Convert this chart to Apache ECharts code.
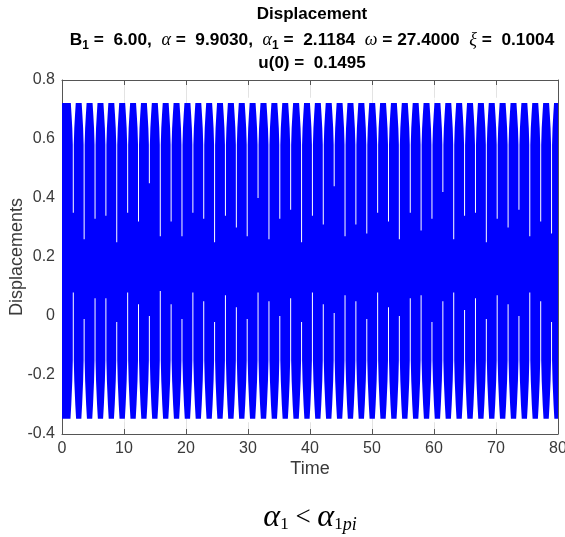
<!DOCTYPE html>
<html><head><meta charset="utf-8">
<script src="https://cdn.jsdelivr.net/npm/echarts@6/dist/echarts.min.js"></script>
<style>html,body{margin:0;padding:0;background:#fff}#c{width:565px;height:537px}</style>
</head><body><div id="c"></div>
<script>
// ---- data ----
const xTicks = [0, 10, 20, 30, 40, 50, 60, 70, 80];
const yTickLabels = ['-0.4', '-0.2', '0', '0.2', '0.4', '0.6', '0.8'];
const timeRange = [0, 80];
// envelope of the fast oscillation (trough, peak)
const envelope = [-0.348, 0.722];
// times of the white aliasing gaps between the visible lobes
const gapTimes = [1.82, 3.57, 5.33, 7.08, 8.83, 10.59, 12.34, 14.09, 15.85, 17.60,
  19.35, 21.11, 22.86, 24.61, 26.36, 28.12, 29.87, 31.62, 33.38, 35.13,
  36.88, 38.64, 40.39, 42.14, 43.90, 45.65, 47.40, 49.16, 50.91, 52.66,
  54.41, 56.17, 57.92, 59.67, 61.43, 63.18, 64.93, 66.69, 68.44, 70.19,
  71.95, 73.70, 75.45, 77.21, 78.96];
// lowest value reached by each gap coming down from the top
const topGapDepth = [0.35, 0.26, 0.33, 0.34, 0.25, 0.35, 0.32, 0.45, 0.27, 0.32,
  0.27, 0.35, 0.33, 0.25, 0.34, 0.30, 0.27, 0.40, 0.26, 0.33,
  0.36, 0.25, 0.34, 0.31, 0.44, 0.27, 0.31, 0.28, 0.35, 0.32,
  0.26, 0.35, 0.29, 0.33, 0.42, 0.26, 0.34, 0.35, 0.25, 0.33,
  0.30, 0.36, 0.27, 0.32, 0.28];
// highest value reached by each gap coming up from the bottom
const bottomGapHeight = [0.08, -0.01, 0.06, 0.06, -0.02, 0.08, 0.04, 0.00, 0.085, 0.04,
  -0.01, 0.08, 0.05, -0.02, 0.07, 0.03, -0.01, 0.08, 0.05, 0.00,
  0.06, -0.02, 0.08, 0.04, 0.01, 0.07, 0.05, -0.01, 0.08, 0.03,
  0.00, 0.06, 0.07, -0.02, 0.05, 0.08, 0.02, 0.06, -0.01, 0.07,
  0.04, 0.00, 0.08, 0.05, -0.02];

// ---- chart ----
const chart = echarts.init(document.getElementById('c'));
const FONT = "'Liberation Sans', Arial, Helvetica, sans-serif";
const SERIF = "'Liberation Serif', 'DejaVu Serif', serif";
const axisColor = '#555';
const labelColor = '#3a3a3a';

const boxAxis = {
  type: 'value', min: timeRange[0], max: timeRange[1], interval: 10,
  axisLine: { show: true, onZero: false, lineStyle: { color: axisColor, width: 1 } },
  axisTick: { show: true, inside: true, length: 5, lineStyle: { color: axisColor } },
  axisLabel: { show: false }, splitLine: { show: false }
};

const sub = (pad) => ({ fontFamily: FONT, fontWeight: 'bold', fontSize: 12, color: '#000', lineHeight: 28, padding: [pad, 0, 0, 0] });

chart.setOption({
  animation: false,
  backgroundColor: '#fff',
  title: [
    { text: 'Displacement', left: 307, top: 1, textAlign: 'center',
      textStyle: { fontFamily: FONT, fontWeight: 'bold', fontSize: 17, color: '#000' } },
    { text: '{b|B}{s|1}{b| =  6.00,  }{g|α}{b| =  9.9030,  }{g|α}{s|1}{b| =  2.1184  }{g|ω}{b| = 27.4000  }{g|ξ}{b| =  0.1004}',
      left: 307, top: 21, textAlign: 'center',
      textStyle: { rich: {
        b: { fontFamily: FONT, fontWeight: 'bold', fontSize: 17.3, color: '#000', lineHeight: 28 },
        s: sub(12),
        g: { fontFamily: SERIF, fontStyle: 'italic', fontWeight: 'normal', fontSize: 18, color: '#000', lineHeight: 28 }
      } } },
    { text: 'u(0) =  0.1495', left: 307, top: 50, textAlign: 'center',
      textStyle: { fontFamily: FONT, fontWeight: 'bold', fontSize: 17, color: '#000' } }
  ],
  grid: { left: 62, top: 80, width: 496, height: 354, containLabel: false, outerBoundsMode: 'none' },
  xAxis: [
    { type: 'value', min: timeRange[0], max: timeRange[1], interval: 10, position: 'bottom',
      name: 'Time', nameLocation: 'middle', nameGap: 26, nameMoveOverlap: false,
      nameTextStyle: { fontFamily: FONT, fontSize: 18, color: labelColor },
      axisLine: { show: true, onZero: false, lineStyle: { color: axisColor, width: 1 } },
      axisTick: { show: true, inside: true, length: 5, lineStyle: { color: axisColor } },
      axisLabel: { fontFamily: FONT, fontSize: 16, color: labelColor, margin: 7,
        formatter: v => (xTicks.indexOf(v) >= 0 ? String(v) : '') },
      splitLine: { show: true, lineStyle: { color: '#e3e3e3', width: 1 } } },
    Object.assign({}, boxAxis, { position: 'top' })
  ],
  yAxis: [
    { type: 'value', min: -0.4, max: 0.8, interval: 0.2, position: 'left',
      name: 'Displacements', nameLocation: 'middle', nameGap: 36, nameMoveOverlap: false,
      nameTextStyle: { fontFamily: FONT, fontSize: 18, color: labelColor },
      axisLine: { show: true, onZero: false, lineStyle: { color: axisColor, width: 1 } },
      axisTick: { show: true, inside: true, length: 5, lineStyle: { color: axisColor } },
      axisLabel: { fontFamily: FONT, fontSize: 16, color: labelColor, margin: 7,
        formatter: v => { const s = String(+v.toFixed(1)); return yTickLabels.indexOf(s) >= 0 ? s : ''; } },
      splitLine: { show: false } },
    { type: 'value', min: -0.4, max: 0.8, interval: 0.2, position: 'right',
      axisLine: { show: true, onZero: false, lineStyle: { color: axisColor, width: 1 } },
      axisTick: { show: true, inside: true, length: 5, lineStyle: { color: axisColor } },
      axisLabel: { show: false }, splitLine: { show: false } }
  ],
  graphic: [
    { type: 'text', x: 310, y: 518, silent: true,
      style: { text: '{a|α}{s|1}{o| < }{a|α}{s|1}{i|pi}', textAlign: 'center', textVerticalAlign: 'middle',
        rich: {
          a: { fontFamily: SERIF, fontStyle: 'italic', fontSize: 32, color: '#000', lineHeight: 40 },
          o: { fontFamily: SERIF, fontSize: 27, color: '#000', lineHeight: 40 },
          s: { fontFamily: SERIF, fontSize: 17, color: '#000', lineHeight: 40, padding: [14, 0, 0, 0] },
          i: { fontFamily: SERIF, fontStyle: 'italic', fontSize: 18, color: '#000', lineHeight: 40, padding: [14, 0, 0, 0] }
        } } }
  ],
  series: [
    { type: 'custom', name: 'band', clip: true, xAxisIndex: 0, yAxisIndex: 0,
      data: [[timeRange[0], timeRange[1], envelope[0], envelope[1]]],
      renderItem: (params, api) => {
        const p1 = api.coord([api.value(0), api.value(3)]);
        const p2 = api.coord([api.value(1), api.value(2)]);
        return { type: 'rect', shape: { x: p1[0], y: p1[1], width: p2[0] - p1[0], height: p2[1] - p1[1] },
          style: { fill: '#0000ff' } };
      } },
    { type: 'custom', name: 'gaps', clip: true, xAxisIndex: 0, yAxisIndex: 0,
      data: gapTimes.map((t, i) => [t, topGapDepth[i], bottomGapHeight[i]]),
      renderItem: (params, api) => {
        const t = api.value(0), dTop = api.value(1), hBot = api.value(2);
        const cx = api.coord([t, 0])[0];
        const y = v => api.coord([t, v])[1];
        const top = [[cx - 2.8, y(0.74)], [cx - 1.7, y(0.68)], [cx - 1.0, y(0.637)], [cx - 0.5, y(0.58)],
          [cx - 0.5, y(dTop)], [cx + 0.5, y(dTop)], [cx + 0.5, y(0.58)], [cx + 1.0, y(0.637)],
          [cx + 1.7, y(0.68)], [cx + 2.8, y(0.74)]];
        const bot = [[cx - 3.0, y(-0.36)], [cx - 2.0, y(-0.30)], [cx - 1.0, y(-0.22)], [cx - 0.5, y(-0.15)],
          [cx - 0.5, y(hBot)], [cx + 0.5, y(hBot)], [cx + 0.5, y(-0.15)], [cx + 1.0, y(-0.22)],
          [cx + 2.0, y(-0.30)], [cx + 3.0, y(-0.36)]];
        return { type: 'group', children: [
          { type: 'polygon', shape: { points: top }, style: { fill: '#ffffff' } },
          { type: 'polygon', shape: { points: bot }, style: { fill: '#ffffff' } }
        ] };
      } }
  ]
});
</script>
</body></html>
